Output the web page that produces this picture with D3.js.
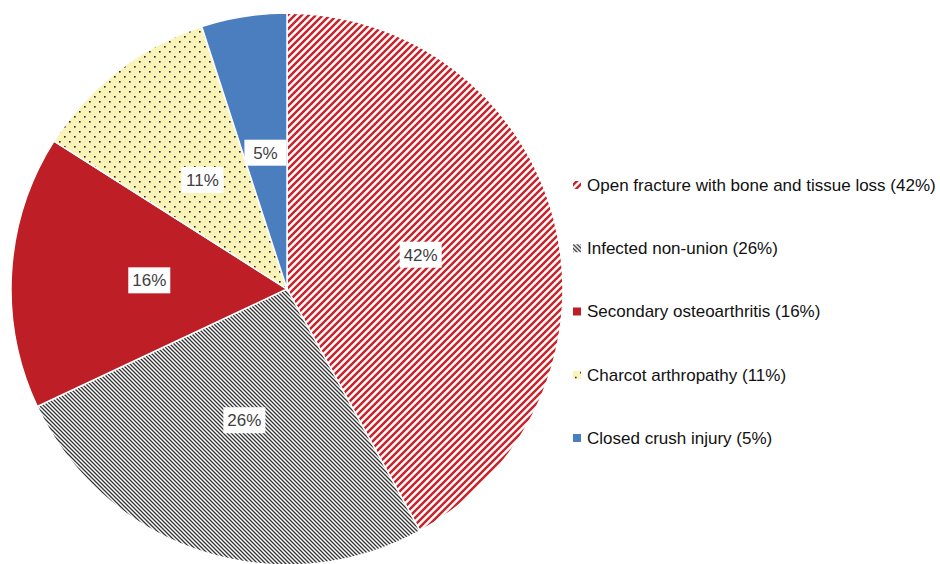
<!DOCTYPE html>
<html>
<head>
<meta charset="utf-8">
<script src="https://cdn.jsdelivr.net/npm/d3@7"></script>
<style>
  body { margin: 0; background: #fff; }
  svg { display: block; }
  text { font-family: "Liberation Sans", "DejaVu Sans", sans-serif; }
</style>
</head>
<body>
<svg id="chart" width="940" height="564"></svg>
<script>
var categories = [
    "Open fracture with bone and tissue loss",
    "Infected non-union",
    "Secondary osteoarthritis",
    "Charcot arthropathy",
    "Closed crush injury"
];
var values = [42, 26, 16, 11, 5];
var fills = ["url(#hatchRed)", "url(#hatchGrey)", "#BE1E25", "url(#dotsYellow)", "#4A7EBF"];

var svg = d3.select("#chart");
var cx = 287, cy = 289, radius = 276;

// fill patterns
var defs = svg.append("defs");

var pr = defs.append("pattern")
    .attr("id", "hatchRed")
    .attr("patternUnits", "userSpaceOnUse")
    .attr("width", 7).attr("height", 7);
pr.append("rect").attr("width", 7).attr("height", 7).attr("fill", "#fff");
pr.append("path")
    .attr("d", "M-1,8 L8,-1 M-4,4 L4,-4 M3,11 L11,3")
    .attr("stroke", "#C8232B")
    .attr("stroke-width", 2.5);

var pg = defs.append("pattern")
    .attr("id", "hatchGrey")
    .attr("patternUnits", "userSpaceOnUse")
    .attr("width", 4).attr("height", 4);
pg.append("rect").attr("width", 4).attr("height", 4).attr("fill", "#fff");
pg.append("path")
    .attr("d", "M-1,-1 L5,5 M-1,3 L1,5 M3,-1 L5,1")
    .attr("stroke", "#333")
    .attr("stroke-width", 1.3);

var py = defs.append("pattern")
    .attr("id", "dotsYellow")
    .attr("patternUnits", "userSpaceOnUse")
    .attr("width", 10).attr("height", 10);
py.append("rect").attr("width", 10).attr("height", 10).attr("fill", "#FBF4B8");
py.append("rect").attr("x", 2).attr("y", 2).attr("width", 1.6).attr("height", 1.6).attr("fill", "#222");
py.append("rect").attr("x", 7).attr("y", 7).attr("width", 1.6).attr("height", 1.6).attr("fill", "#222");

var pie = d3.pie().sort(null).value(function(d) { return d; });
var arcs = pie(values);
var arc = d3.arc().innerRadius(0).outerRadius(radius);

var g = svg.append("g").attr("transform", "translate(" + cx + "," + cy + ")");

g.selectAll("path.slice")
    .data(arcs)
    .enter().append("path")
    .attr("class", "slice")
    .attr("d", arc)
    .attr("fill", function(d, i) { return fills[i]; })
    .attr("stroke", "#fff")
    .attr("stroke-width", 1.5);

// data labels in white boxes
var labels = g.selectAll("g.label")
    .data(arcs)
    .enter().append("g")
    .attr("class", "label")
    .attr("transform", function(d) {
        var c = arc.centroid(d);
        return "translate(" + c[0] + "," + c[1] + ")";
    });

labels.append("rect")
    .attr("x", -21).attr("y", -13)
    .attr("width", 42).attr("height", 26)
    .attr("fill", "#fff");

labels.append("text")
    .attr("text-anchor", "middle")
    .attr("dy", "0.36em")
    .attr("font-size", 17)
    .attr("fill", "#404040")
    .text(function(d) { return d.value + "%"; });

// legend
var legend = svg.append("g").attr("transform", "translate(573,185)");
var rowY = d3.scalePoint().domain(d3.range(categories.length)).range([0, 253]);

var items = legend.selectAll("g.item")
    .data(categories)
    .enter().append("g")
    .attr("class", "item")
    .attr("transform", function(d, i) { return "translate(0," + rowY(i) + ")"; });

items.append("rect")
    .attr("x", 0).attr("y", -4)
    .attr("width", 8).attr("height", 8)
    .attr("fill", function(d, i) { return fills[i]; });

items.append("text")
    .attr("x", 14)
    .attr("dy", "0.35em")
    .attr("font-size", 17)
    .attr("fill", "#111")
    .text(function(d, i) { return d + " (" + values[i] + "%)"; });
</script>
</body>
</html>
